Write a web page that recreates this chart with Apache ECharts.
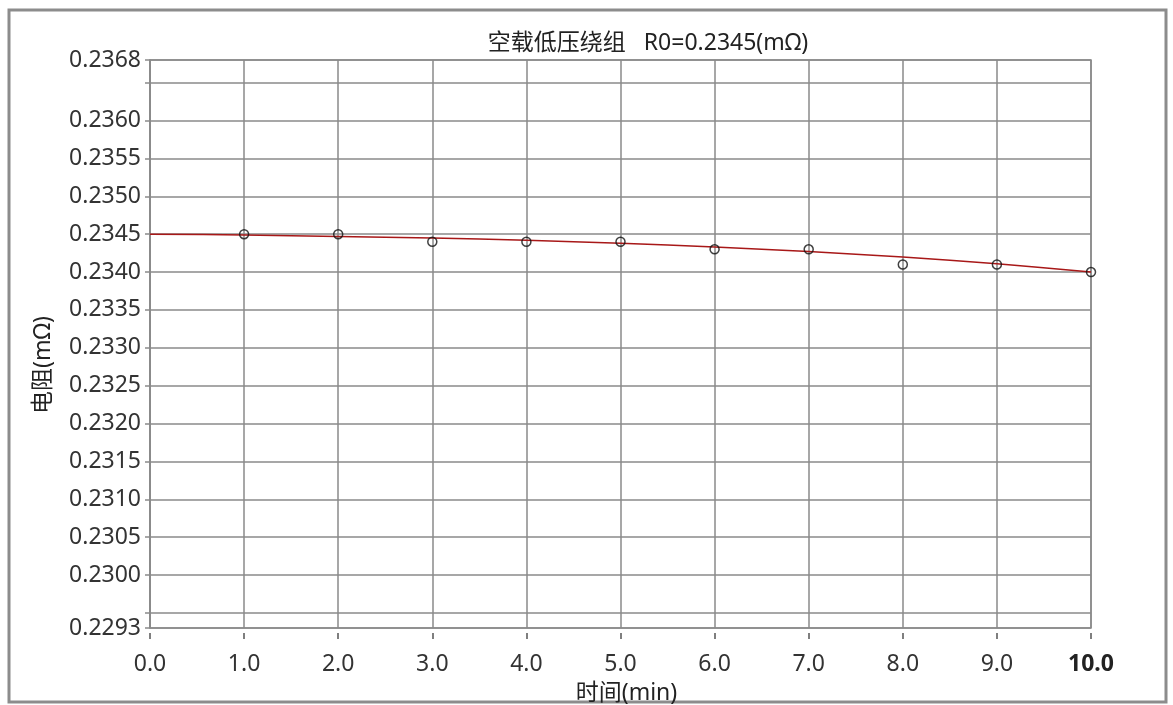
<!DOCTYPE html>
<html>
<head>
<meta charset="utf-8">
<script src="https://cdn.jsdelivr.net/npm/echarts@6/dist/echarts.min.js"></script>
<style>
html,body{margin:0;padding:0;background:#fff;}
#chart{width:1173px;height:705px;}
</style>
</head>
<body>
<div id="chart"></div>
<script>
// ---- data ----
const titleText = '空载低压绕组   R0=0.2345(mΩ)';
const xName = '时间(min)';
const yName = '电阻(mΩ)';
const measTimes = [1, 2, 3, 4, 5, 6, 7, 8, 9, 10];
const measValues = [0.2345, 0.2345, 0.2344, 0.2344, 0.2344, 0.2343, 0.2343, 0.2341, 0.2341, 0.2340];
const fitTimes = [0, 1, 2, 3, 4, 5, 6, 7, 8, 9, 10];
const fitValues = [0.23450, 0.23449, 0.23447, 0.23445, 0.23442, 0.23438, 0.23433, 0.23427, 0.23420, 0.23411, 0.23400];
const xTicks = [0, 1, 2, 3, 4, 5, 6, 7, 8, 9, 10];
const yMin = 0.2293;
const yMax = 0.2368;
const yGridValues = [0.2293, 0.2295, 0.2300, 0.2305, 0.2310, 0.2315, 0.2320, 0.2325, 0.2330, 0.2335, 0.2340, 0.2345, 0.2350, 0.2355, 0.2360, 0.2365, 0.2368];
const yLabelValues = [0.2293, 0.2300, 0.2305, 0.2310, 0.2315, 0.2320, 0.2325, 0.2330, 0.2335, 0.2340, 0.2345, 0.2350, 0.2355, 0.2360, 0.2368];

const FONT = '"Noto Sans", "Noto Sans CJK SC", sans-serif';
const FS = 23;
const chart = echarts.init(document.getElementById('chart'), null, {renderer: 'canvas'});

const option = {
  animation: false,
  backgroundColor: '#ffffff',
  title: {
    text: titleText,
    left: 643, top: 27, textAlign: 'center',
    textStyle: {fontFamily: FONT, fontSize: FS, fontWeight: 'normal', color: '#222'}
  },
  graphic: [
    {type: 'rect', shape: {x: 9, y: 10, width: 1157, height: 692},
     style: {fill: 'none', stroke: '#8c8c8c', lineWidth: 3}, silent: true, z: -1},
    {type: 'text', x: 43, y: 365, rotation: Math.PI / 2,
     style: {text: yName, fontFamily: FONT, fontSize: FS, fill: '#222', align: 'center', verticalAlign: 'middle'}}
  ],
  grid: {
    left: 150, right: 1173 - 1091, top: 60, bottom: 705 - 628,
    show: true, borderColor: '#8a8a8a', borderWidth: 1.5, containLabel: false,
    outerBoundsMode: 'none'
  },
  xAxis: {
    type: 'value', min: 0, max: 10, interval: 1,
    offset: 5,
    name: xName, nameLocation: 'middle', nameGap: 49,
    nameTextStyle: {fontFamily: FONT, fontSize: FS, color: '#222', padding: [0, 0, 0, 12]},
    axisLine: {show: false},
    axisTick: {show: true, length: 6, lineStyle: {color: '#555', width: 1.5}},
    axisLabel: {fontFamily: FONT, fontSize: FS, color: '#333', margin: 20,
      formatter: v => v === 10 ? '{b|10.0}' : v.toFixed(1),
      rich: {b: {fontFamily: FONT, fontSize: FS, fontWeight: 'bold', color: '#222'}}},
    splitLine: {show: true, lineStyle: {color: '#8a8a8a', width: 1.5}}
  },
  yAxis: {
    type: 'value', min: yMin, max: yMax,
    axisLine: {show: true, lineStyle: {color: '#8a8a8a', width: 1.5}},
    axisTick: {show: true, length: 5, inside: false, customValues: yGridValues,
      lineStyle: {color: '#8a8a8a', width: 1.5}},
    axisLabel: {show: true, customValues: yLabelValues, margin: 9,
      fontFamily: FONT, fontSize: FS, color: '#333',
      formatter: v => Number(v).toFixed(4)},
    splitLine: {show: true, lineStyle: {color: '#8a8a8a', width: 1.5}}
  },
  series: [
    {
      type: 'line', name: 'fit',
      data: fitTimes.map((t, i) => [t, fitValues[i]]),
      smooth: 0.3, showSymbol: false,
      lineStyle: {color: '#a81818', width: 1.5},
      z: 2
    },
    {
      type: 'scatter', name: 'meas',
      data: measTimes.map((t, i) => [t, measValues[i]]),
      symbol: 'circle', symbolSize: 9,
      itemStyle: {color: 'rgba(255,255,255,0)', borderColor: '#111', borderWidth: 1.5},
      z: 3
    }
  ]
};
chart.setOption(option);
</script>
</body>
</html>
